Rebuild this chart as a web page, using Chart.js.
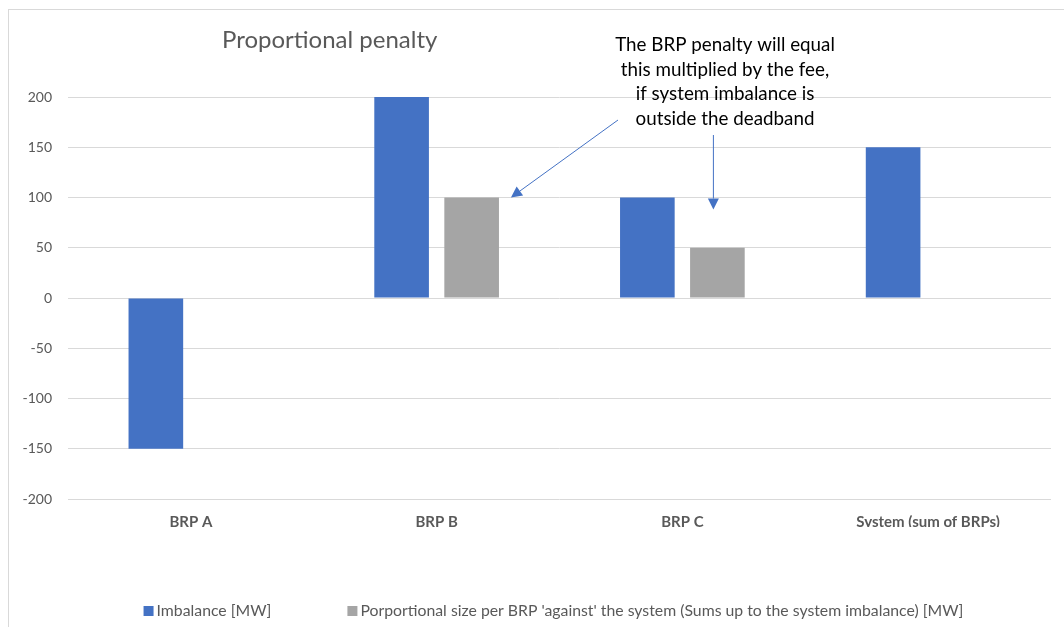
<!DOCTYPE html>
<html>
<head>
<meta charset="utf-8">
<script src="https://cdn.jsdelivr.net/npm/chart.js@4/dist/chart.umd.min.js"></script>
<style>
  body { margin: 0; background: #fff; overflow: hidden; }
  #frame { position: absolute; left: 8px; top: 9px; width: 1100px; height: 700px; border: 1px solid #d9d9d9; pointer-events: none; }
  #chart { position: absolute; left: 0; top: 0; }
</style>
</head>
<body>
<canvas id="chart" width="1064" height="627"></canvas>
<div id="frame"></div>
<script>
// data
const categories = ['BRP A', 'BRP B', 'BRP C', 'System (sum of BRPs)'];
const imbalance = [-150, 200, 100, 150];
const proportional = [0, 100, 50, 0];
const yTicks = [-200, -150, -100, -50, 0, 50, 100, 150, 200];
const seriesNames = ['Imbalance [MW]', "Porportional size per BRP 'against' the system (Sums up to the system imbalance) [MW]"];
const chartTitle = 'Proportional penalty';
const noteLines = ['The BRP penalty will equal', 'this multiplied by the fee,', 'if system imbalance is', 'outside the deadband'];

const FONT = 'Lato, "Noto Sans", sans-serif';
const GREY = '#595959';
const BLUE = '#4472C4';

function arrow(ctx, x1, y1, x2, y2) {
  const ang = Math.atan2(y2 - y1, x2 - x1);
  const len = 11, half = 5.5;
  ctx.beginPath();
  ctx.moveTo(x1, y1);
  ctx.lineTo(x2 - Math.cos(ang) * len, y2 - Math.sin(ang) * len);
  ctx.stroke();
  ctx.beginPath();
  ctx.moveTo(x2, y2);
  ctx.lineTo(x2 - Math.cos(ang) * len - Math.sin(ang) * half, y2 - Math.sin(ang) * len + Math.cos(ang) * half);
  ctx.lineTo(x2 - Math.cos(ang) * len + Math.sin(ang) * half, y2 - Math.sin(ang) * len - Math.cos(ang) * half);
  ctx.closePath();
  ctx.fill();
}

const extras = {
  id: 'extras',
  afterDraw(chart) {
    const ctx = chart.ctx;
    const y = chart.scales.y;
    ctx.save();

    // title
    ctx.fillStyle = GREY;
    ctx.font = '24px ' + FONT;
    ctx.textAlign = 'left';
    ctx.textBaseline = 'middle';
    ctx.fillText(chartTitle, 222, 40);

    // note
    ctx.fillStyle = '#000';
    ctx.font = '18.8px ' + FONT;
    ctx.textAlign = 'center';
    noteLines.forEach((t, i) => ctx.fillText(t, 725, 45 + i * 24.5));

    // arrows pointing at the grey bars
    ctx.strokeStyle = BLUE;
    ctx.fillStyle = BLUE;
    ctx.lineWidth = 1;
    const greyB = chart.getDatasetMeta(1).data[1];
    const greyC = chart.getDatasetMeta(1).data[2];
    arrow(ctx, 618, 120, greyB.x + greyB.width / 2 + 12, y.getPixelForValue(proportional[1]));
    arrow(ctx, greyC.x - 4, 135, greyC.x - 4, y.getPixelForValue(88));

    // legend
    ctx.font = '15.8px ' + FONT;
    ctx.textAlign = 'left';
    const gap = 76, box = 10, boxGap = 3;
    const widths = chart.data.datasets.map(d => box + boxGap + ctx.measureText(d.label).width);
    const total = widths.reduce((a, b) => a + b, 0) + gap * (widths.length - 1);
    let x = (chart.chartArea.left + chart.chartArea.right) / 2 - 6 - total / 2;
    chart.data.datasets.forEach((d, i) => {
      ctx.fillStyle = d.backgroundColor;
      ctx.fillRect(x, 606, box, box);
      ctx.fillStyle = GREY;
      ctx.fillText(d.label, x + box + boxGap, 611);
      x += widths[i] + gap;
    });
    ctx.restore();
  }
};

new Chart(document.getElementById('chart'), {
  type: 'bar',
  data: {
    labels: categories,
    datasets: [
      { label: seriesNames[0], data: imbalance, backgroundColor: BLUE },
      { label: seriesNames[1], data: proportional, backgroundColor: '#A5A5A5' }
    ]
  },
  options: {
    responsive: false,
    animation: false,
    categoryPercentage: 0.57,
    barPercentage: 0.78,
    layout: { padding: { left: 0, right: 13, top: 97, bottom: 100 } },
    plugins: {
      legend: { display: false },
      tooltip: { enabled: false }
    },
    scales: {
      x: {
        grid: { display: false, drawTicks: false },
        border: { display: false },
        ticks: { color: GREY, padding: 14, font: { family: FONT, size: 15, weight: 'bold' } },
        afterFit: s => { s.height = 28; }
      },
      y: {
        min: -200,
        max: 200,
        grid: { color: '#D9D9D9', drawTicks: false },
        border: { display: false },
        ticks: { color: GREY, padding: 16, stepSize: 50, font: { family: FONT, size: 14 } },
        afterBuildTicks: s => { s.ticks = yTicks.map(v => ({ value: v })); },
        afterFit: s => { s.width = 68; }
      }
    }
  },
  plugins: [extras]
});
</script>
</body>
</html>
